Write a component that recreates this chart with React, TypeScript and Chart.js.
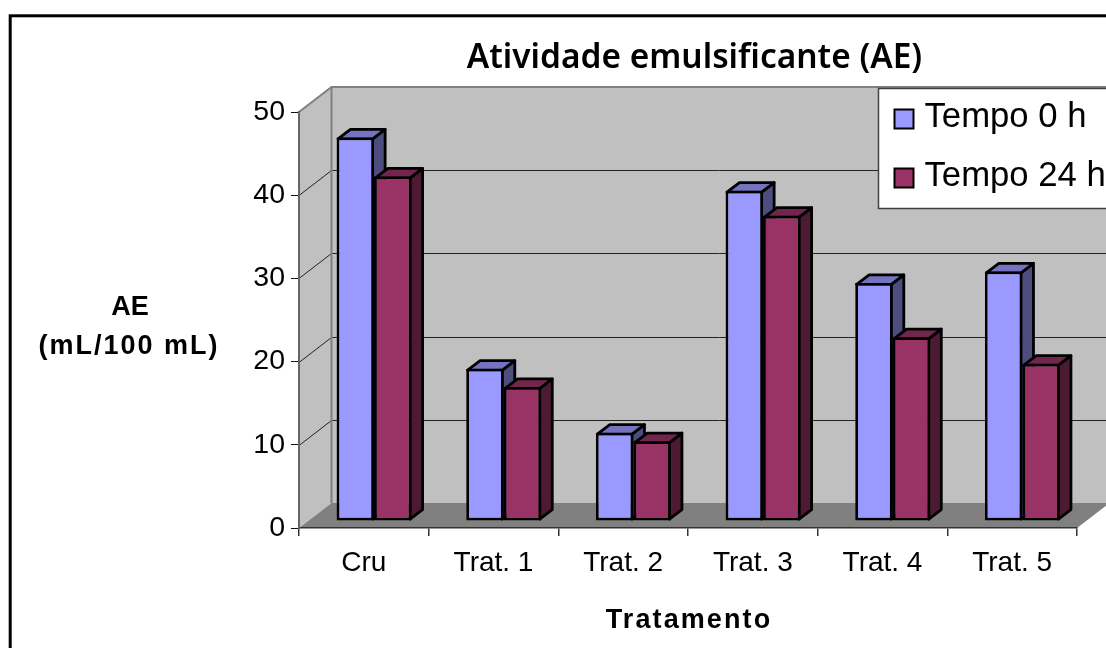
import { useEffect, useRef } from "react";
import { Chart, registerables } from "chart.js";

Chart.register(...registerables);

const categories = ["Cru", "Trat. 1", "Trat. 2", "Trat. 3", "Trat. 4", "Trat. 5"];
const tempo0h = [46.1, 18.3, 10.6, 39.7, 28.6, 30.0];
const tempo24h = [41.4, 16.1, 9.6, 36.7, 22.1, 18.9];
const seriesNames = ["Tempo 0 h", "Tempo 24 h"];
const chartTitle = "Atividade emulsificante (AE)";
const yTitleLines = ["AE", "(mL/100 mL)"];
const xTitle = "Tratamento";

const FRONT = ["#9999FF", "#993366"];
const SIDE = ["#4D4D80", "#4D1A33"];
const TOP = ["#7373BF", "#73264D"];

const WALL_DX = 32.5;
const WALL_DY = 25;
const BAR_DX = 10.2;
const BAR_DY = -7;
const BAR_DEPTH_X = 12.5;
const BAR_DEPTH_Y = 9.5;
const BAR_BORDER = 2.8;

function poly(ctx: CanvasRenderingContext2D, pts: number[][], fill: string | null, stroke?: string, lw?: number) {
  ctx.beginPath();
  pts.forEach((p, i) => (i ? ctx.lineTo(p[0], p[1]) : ctx.moveTo(p[0], p[1])));
  ctx.closePath();
  if (fill) {
    ctx.fillStyle = fill;
    ctx.fill();
  }
  if (stroke) {
    ctx.strokeStyle = stroke;
    ctx.lineWidth = lw || 1;
    ctx.lineJoin = "round";
    ctx.stroke();
  }
}

function spacedText(ctx: CanvasRenderingContext2D, text: string, x: number, y: number, font: string, spacing: number, sx = 1) {
  ctx.save();
  ctx.translate(x, y);
  ctx.scale(sx, 1);
  ctx.font = font;
  (ctx as any).letterSpacing = spacing + "px";
  ctx.fillStyle = "#000";
  ctx.textAlign = "center";
  ctx.textBaseline = "middle";
  ctx.fillText(text, 0, 0);
  ctx.restore();
}

const scene3d = {
  id: "scene3d",
  beforeDraw(chart: any) {
    const { ctx, chartArea: a, scales } = chart;
    const y = scales.y;
    const bl = a.left + WALL_DX;
    const br = a.right + WALL_DX;
    const tb = a.top - WALL_DY;
    const bb = a.bottom - WALL_DY;
    ctx.save();
    ctx.fillStyle = "#fff";
    ctx.fillRect(0, 0, chart.width, chart.height);
    poly(ctx, [[a.left, a.top], [bl, tb], [bl, bb], [a.left, a.bottom]], "#C0C0C0");
    poly(ctx, [[bl, tb], [br, tb], [br, bb], [bl, bb]], "#C0C0C0");
    poly(ctx, [[a.left, a.bottom], [bl, bb], [br, bb], [a.right, a.bottom]], "#808080");
    ctx.strokeStyle = "#222";
    ctx.lineWidth = 1;
    y.ticks.forEach((t: any) => {
      if (t.value === 0 || t.value === 50) return;
      const py = Math.round(y.getPixelForValue(t.value)) + 0.5;
      ctx.beginPath();
      ctx.moveTo(a.left, py);
      ctx.lineTo(bl, py - WALL_DY);
      ctx.lineTo(br, py - WALL_DY);
      ctx.stroke();
    });
    ctx.strokeStyle = "#808080";
    ctx.lineWidth = 2;
    ctx.beginPath();
    ctx.moveTo(a.left, a.top);
    ctx.lineTo(bl, tb);
    ctx.lineTo(br, tb);
    ctx.moveTo(bl, tb);
    ctx.lineTo(bl, bb);
    ctx.stroke();
    ctx.lineWidth = 3;
    ctx.strokeStyle = "#000";
    ctx.strokeRect(10.2, 15.8, 1300, 900);
    ctx.restore();
  },
  beforeDatasetsDraw(chart: any) {
    const { ctx } = chart;
    ctx.save();
    ctx.translate(BAR_DX, BAR_DY);
    const inset = BAR_BORDER / 2;
    chart.data.datasets.forEach((_: any, di: number) => {
      chart.getDatasetMeta(di).data.forEach((bar: any) => {
        const left = bar.x - bar.width / 2 + inset;
        const right = bar.x + bar.width / 2 - inset;
        const top = bar.y + inset;
        const bottom = bar.base - inset;
        poly(ctx, [[right, top], [right + BAR_DEPTH_X, top - BAR_DEPTH_Y], [right + BAR_DEPTH_X, bottom - BAR_DEPTH_Y], [right, bottom]], SIDE[di], "#000", BAR_BORDER);
        poly(ctx, [[left, top], [left + BAR_DEPTH_X, top - BAR_DEPTH_Y], [right + BAR_DEPTH_X, top - BAR_DEPTH_Y], [right, top]], TOP[di], "#000", BAR_BORDER);
      });
    });
  },
  afterDatasetsDraw(chart: any) {
    chart.ctx.restore();
  },
  afterDraw(chart: any) {
    const { ctx } = chart;
    ctx.save();
    // legend
    ctx.fillStyle = "#fff";
    ctx.fillRect(878.5, 88.5, 300, 120);
    ctx.strokeStyle = "#404040";
    ctx.lineWidth = 1.5;
    ctx.strokeRect(878.5, 88.5, 300, 120);
    chart.data.datasets.forEach((ds: any, i: number) => {
      const cy = 119 + i * 59;
      ctx.fillStyle = ds.backgroundColor;
      ctx.strokeStyle = "#000";
      ctx.lineWidth = 2;
      ctx.fillRect(894.5, cy - 9.5, 19, 19);
      ctx.strokeRect(894.5, cy - 9.5, 19, 19);
      ctx.font = "34.7px 'Liberation Sans'";
      ctx.fillStyle = "#000";
      ctx.textAlign = "left";
      ctx.textBaseline = "middle";
      ctx.fillText(ds.label, 924.5, cy - 2);
    });
    ctx.restore();
    spacedText(ctx, chartTitle, 694.5, 58, "600 35px 'Noto Sans'", 0, 0.955);
    spacedText(ctx, yTitleLines[0], 130, 307.5, "bold 27px 'Liberation Sans'", 0);
    spacedText(ctx, yTitleLines[1], 129, 346.5, "bold 27px 'Liberation Sans'", 2);
    spacedText(ctx, xTitle, 689, 620.5, "bold 27px 'Liberation Sans'", 2.1);
  },
};

export default function App() {
  const ref = useRef<HTMLCanvasElement>(null);
  useEffect(() => {
    const chart = new Chart(ref.current as HTMLCanvasElement, {
      type: "bar",
      data: {
        labels: categories,
        datasets: [
          { label: seriesNames[0], data: tempo0h, backgroundColor: FRONT[0], clip: false as any },
          { label: seriesNames[1], data: tempo24h, backgroundColor: FRONT[1], clip: false as any },
        ],
      },
      options: {
        responsive: false,
        animation: false,
        layout: { padding: { top: 112, right: 29, left: 0, bottom: 0 } },
        datasets: {
          bar: {
            categoryPercentage: 0.578,
            barPercentage: 1,
            borderColor: "#000",
            borderWidth: BAR_BORDER,
            borderSkipped: false,
          },
        },
        plugins: { legend: { display: false }, title: { display: false }, tooltip: { enabled: false } },
        scales: {
          x: {
            afterFit: (s: any) => { s.height = 120; },
            grid: { drawOnChartArea: false, drawTicks: true, tickLength: 8, color: "#333", lineWidth: 1.5 },
            border: { color: "#333", width: 1.5 },
            ticks: { color: "#000", font: { family: "'Liberation Sans'", size: 28 }, padding: 10, maxRotation: 0, autoSkip: false },
          },
          y: {
            min: 0,
            max: 50,
            afterFit: (s: any) => { s.width = 299; },
            grid: { drawOnChartArea: false, drawTicks: true, tickLength: 8, color: "#111", lineWidth: 1 },
            border: { color: "#666", width: 2 },
            ticks: { stepSize: 10, color: "#000", font: { family: "'Liberation Sans'", size: 28.5 }, padding: 6 },
          },
        },
      },
      plugins: [scene3d],
    } as any);
    return () => chart.destroy();
  }, []);
  return (
    <div style={{ position: "fixed", left: 0, top: 0, width: 1106, height: 648, overflow: "hidden", background: "#fff" }}>
      <canvas ref={ref} width={1106} height={648} style={{ display: "block" }} />
    </div>
  );
}
